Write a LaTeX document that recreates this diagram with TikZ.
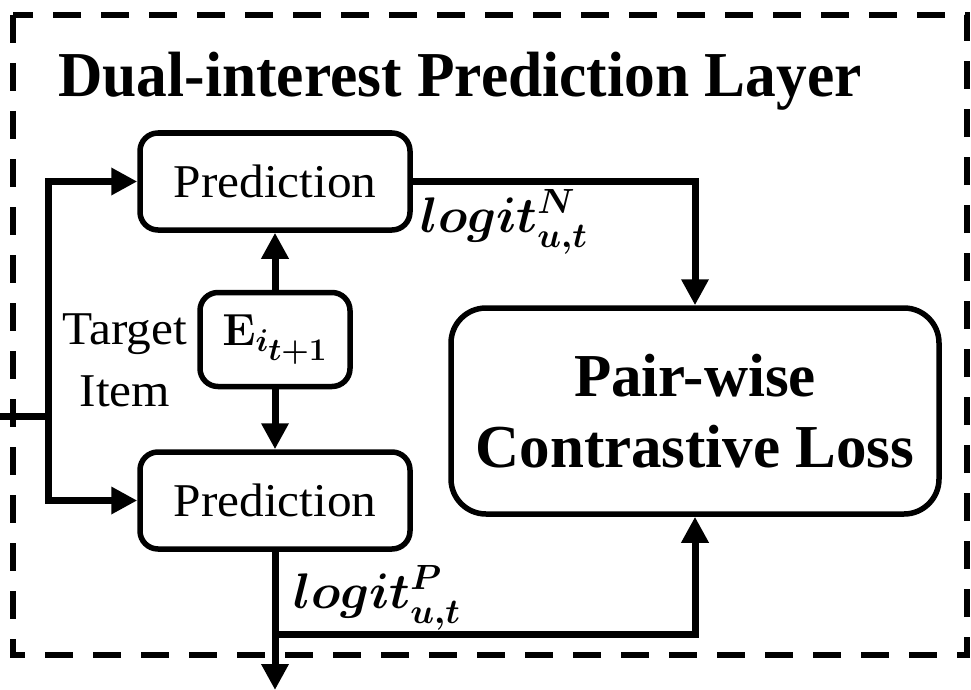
\RequirePackage{fix-cm}
\documentclass[tikz,border=0pt]{standalone}
\usepackage{fontspec}
\setmainfont{Liberation Serif}
\newfontfamily\predfont[FakeStretch=1.05]{Liberation Serif}
\newfontfamily\headfont[FakeStretch=0.96]{Liberation Serif}
\usetikzlibrary{arrows.meta,positioning}
\tikzstyle{predbox} = [rectangle, rounded corners=18pt, minimum width=270pt, minimum height=97pt, text centered, draw=black, line width=5.5pt, font={\predfont\fontsize{47}{56}\selectfont}]
\tikzstyle{embbox} = [rectangle, rounded corners=18pt, minimum width=150pt, minimum height=94pt, text centered, draw=black, line width=5.5pt, font={\fontsize{45}{56}\selectfont\boldmath}]
\tikzstyle{lossbox} = [rectangle, rounded corners=35pt, minimum width=488pt, minimum height=206pt, align=center, draw=black, line width=5.5pt, font={\fontsize{61}{71}\selectfont\bfseries}]
\tikzstyle{label} = [inner sep=0pt, font={\predfont\fontsize{47}{62}\selectfont}]
\tikzstyle{logit} = [inner sep=0pt, anchor=base west, font={\fontsize{50}{60}\selectfont\boldmath}]
\tikzstyle{line} = [line width=7pt]
\tikzstyle{arrow} = [line width=7pt, -{Triangle[length=26pt,width=26pt]}]
\tikzstyle{frame} = [line width=6pt, dash pattern=on 28pt off 20pt]

\begin{document}
\begin{tikzpicture}[x=1pt,y=-1pt]
\useasboundingbox (0,0) rectangle (971,690);
% Outer frame and title
\draw[frame] (13,15) rectangle (967,655);
\node[inner sep=0pt, anchor=base, font={\headfont\bfseries\fontsize{64}{72}\selectfont}] (title) at (460,97) {Dual-interest Prediction Layer};

% Prediction blocks
\node[predbox] (predn) at (275,181.5) {Prediction};
\node[predbox] (predp) at (275,500.5) {Prediction};
\node[embbox] (emb) at (275,339.5) {$\mathbf{E}_{i_{\scriptstyle t+1}}$};
\node[label, align=center] (target) at (125,360) {Target\\Item};

% Loss block
\node[lossbox] (loss) at (695,411) {Pair-wise\\Contrastive Loss};

% Coordinates
\coordinate (in) at (0,416);
\coordinate (split) at (48,416);
\coordinate (branch) at (275,634);
\coordinate (out) at (275,690);

% Arrows
\draw[line] (in) -- (split);
\draw[arrow] (split) |- (predn.west);
\draw[arrow] (split) |- (predp.west);
\draw[arrow] (emb) -- (predn);
\draw[arrow] (emb) -- (predp);
\draw[arrow] (predn.east) -| (loss.north);
\draw[arrow] (predp.south) -- (out);
\draw[arrow] (branch) -| (loss.south);

% Logit labels
\node[logit] (logitn) at (420,232) {$logit^{N}_{u,t}$};
\node[logit] (logitp) at (293,608) {$logit^{P}_{u,t}$};
\end{tikzpicture}
\end{document}
